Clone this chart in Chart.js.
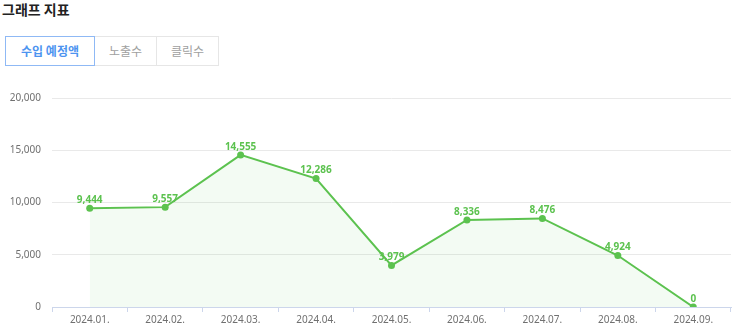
<!DOCTYPE html>
<html>
<head>
<meta charset="utf-8">
<script src="https://cdn.jsdelivr.net/npm/chart.js@4/dist/chart.umd.min.js"></script>
<style>
  body { margin: 0; background: #fff; font-family: "Noto Sans CJK KR", "Noto Sans", sans-serif; }
  .title { position: absolute; left: 2px; top: -1px; font-size: 14px; font-weight: bold; color: #222; }
  .tabs { position: absolute; left: 5px; top: 36px; display: flex; }
  .tab { height: 28px; line-height: 28px; font-size: 12px; color: #a0a0a0; text-align: center;
         border: 1px solid #e6e6e6; box-sizing: content-box; }
  .tab + .tab { border-left: none; }
  .tab.on { color: #4d94f0; font-weight: bold; border-color: #8fb9f5; }
  #wrap { position: absolute; left: 0; top: 80px; width: 743px; height: 254px; }
</style>
</head>
<body>
<div class="title">그래프 지표</div>
<div class="tabs">
  <div class="tab on" style="width:88px">수입 예정액</div>
  <div class="tab" style="width:61px">노출수</div>
  <div class="tab" style="width:61px">클릭수</div>
</div>
<div id="wrap"><canvas id="chart"></canvas></div>
<script>
const months = ["2024.01.", "2024.02.", "2024.03.", "2024.04.", "2024.05.", "2024.06.", "2024.07.", "2024.08.", "2024.09."];
const revenue = [9444, 9557, 14555, 12286, 3979, 8336, 8476, 4924, 0];
const yTicks = [0, 5000, 10000, 15000, 20000];

const GREEN = "#5cc24f";

// values written above each point
const pointLabels = {
  id: "pointLabels",
  afterDatasetsDraw(chart) {
    const ctx = chart.ctx;
    const meta = chart.getDatasetMeta(0);
    ctx.save();
    ctx.font = "bold 10px 'Noto Sans', sans-serif";
    ctx.fillStyle = GREEN;
    ctx.textAlign = "center";
    ctx.textBaseline = "bottom";
    meta.data.forEach((pt, i) => {
      ctx.fillText(revenue[i].toLocaleString("en-US"), pt.x, pt.y - 3);
    });
    ctx.restore();
  },
};

new Chart(document.getElementById("chart"), {
  type: "line",
  data: {
    labels: months,
    datasets: [{
      data: revenue,
      borderColor: GREEN,
      backgroundColor: "rgba(92, 194, 79, 0.07)",
      fill: "origin",
      borderWidth: 2,
      pointRadius: 3.5,
      pointBackgroundColor: GREEN,
      pointBorderWidth: 0,
      tension: 0,
    }],
  },
  options: {
    responsive: true,
    maintainAspectRatio: false,
    animation: false,
    layout: { padding: { top: 18, right: 12, left: 0, bottom: 0 } },
    plugins: { legend: { display: false }, tooltip: { enabled: false } },
    scales: {
      x: {
        offset: true,
        afterFit: s => { s.height = 27; },
        border: { color: "#ccd6eb", width: 1 },
        grid: { offset: true, drawOnChartArea: false, color: "#ccd6eb", tickLength: 5 },
        ticks: { color: "#707070", font: { size: 10, family: "'Noto Sans', sans-serif" }, padding: 2, maxRotation: 0 },
      },
      y: {
        min: 0,
        max: 20000,
        afterFit: s => { s.width = 52; },
        afterBuildTicks: s => { s.ticks = yTicks.map(v => ({ value: v })); },
        border: { display: false },
        grid: { color: "#e9e9e9", drawTicks: false },
        ticks: {
          color: "#707070",
          padding: 11,
          font: { size: 10, family: "'Noto Sans', sans-serif" },
          callback: v => v.toLocaleString("en-US"),
        },
      },
    },
  },
  plugins: [pointLabels],
});
</script>
</body>
</html>
